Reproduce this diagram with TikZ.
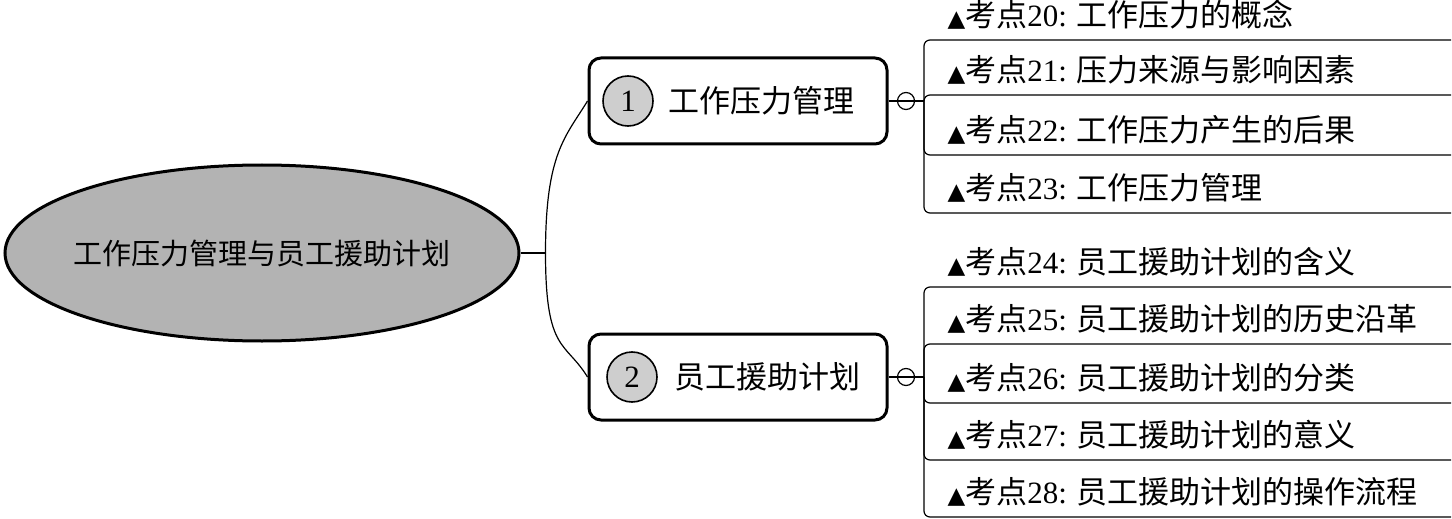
\documentclass[tikz,border=0pt]{standalone}
\usepackage{fontspec}
\setmainfont{Liberation Serif}
\newfontfamily\cjk{Noto Sans CJK SC}
\newfontfamily\symfont{DejaVu Sans}
\usetikzlibrary{shapes.geometric}
\definecolor{rootgray}{RGB}{179,179,179}
\definecolor{dotgray}{RGB}{206,206,206}
\newcommand{\kaodian}[2]{{\symfont\fontsize{11.5}{11.5}\selectfont ▲}{\cjk 考点}#1:\hspace{0.3em}{\cjk #2}}

\tikzset{every picture/.style={line width=0.6pt}}
\tikzset{
  rootnode/.style={ellipse, draw, line width=1.5pt, fill=rootgray, minimum width=257pt, minimum height=88pt, inner xsep=-40pt, inner ysep=0pt, font=\cjk\fontsize{14.5}{14.5}\selectfont},
  topicbox/.style={draw, rounded corners=6pt, line width=1.5pt, minimum width=149pt, minimum height=43pt, inner sep=0pt},
  numdot/.style={circle, draw, fill=dotgray, minimum size=25pt, inner sep=0pt, line width=0.8pt, font=\fontsize{15.5}{15.5}\selectfont},
  topictext/.style={anchor=west, inner sep=0pt, font=\cjk\fontsize{15.5}{15.5}\selectfont},
  foldmark/.style={circle, draw, fill=white, minimum size=8.5pt, inner sep=0pt, line width=0.6pt, path picture={\draw (path picture bounding box.west) -- (path picture bounding box.east);}},
  pointnode/.style={anchor=south west, text width=240pt, inner xsep=11.5pt, inner ysep=3pt, text height=11pt, text depth=3.5pt, align=left, font=\fontsize{15.5}{15.5}\selectfont},
  twig/.style={rounded corners=3pt},
}

\begin{document}
\begin{tikzpicture}[x=0.5pt,y=0.5pt,yscale=-1,xscale=1]
\useasboundingbox (0,0) rectangle (1452,519);

% root
\node[rootnode] (root) at (262,253) {工作压力管理与员工援助计划};

% topic 1
\node[topicbox] (m1) at (738,101) {};
\node[numdot] (n1) at (628,101) {1};
\node[topictext] (t1) at (668,101) {工作压力管理};
\node[foldmark] (c1) at (906,101) {};

% topic 2
\node[topicbox] (m2) at (738,377) {};
\node[numdot] (n2) at (632,377) {2};
\node[topictext] (t2) at (674,377) {员工援助计划};
\node[foldmark] (c2) at (906,377) {};

% points of topic 1
\node[pointnode] (k20) at (924,40) {\kaodian{20}{工作压力的概念}};
\node[pointnode] (k21) at (924,95) {\kaodian{21}{压力来源与影响因素}};
\node[pointnode] (k22) at (924,155) {\kaodian{22}{工作压力产生的后果}};
\node[pointnode] (k23) at (924,213) {\kaodian{23}{工作压力管理}};

% points of topic 2
\node[pointnode] (k24) at (924,287) {\kaodian{24}{员工援助计划的含义}};
\node[pointnode] (k25) at (924,344) {\kaodian{25}{员工援助计划的历史沿革}};
\node[pointnode] (k26) at (924,403) {\kaodian{26}{员工援助计划的分类}};
\node[pointnode] (k27) at (924,460) {\kaodian{27}{员工援助计划的意义}};
\node[pointnode] (k28) at (924,517) {\kaodian{28}{员工援助计划的操作流程}};

% root to topics
\draw (root.east) -- ++(25,0) coordinate (fork);
\draw (fork) .. controls +(0,-100) and +(-22,36) .. (m1.west);
\draw (fork) .. controls +(0,100) and +(-22,-36) .. (m2.west);

% topic 1 to its points
\draw (m1.east) -- (c1.west);
\draw (c1.east) -- (c1.east -| k20.south west);
\draw[twig] (c1.east -| k20.south west) |- (k20.south east);
\draw[twig] (c1.east -| k21.south west) |- (k21.south east);
\draw[twig] (c1.east -| k22.south west) |- (k22.south east);
\draw[twig] (c1.east -| k23.south west) |- (k23.south east);

% topic 2 to its points
\draw (m2.east) -- (c2.west);
\draw (c2.east) -- (c2.east -| k24.south west);
\draw[twig] (c2.east -| k24.south west) |- (k24.south east);
\draw[twig] (c2.east -| k25.south west) |- (k25.south east);
\draw[twig] (c2.east -| k26.south west) |- (k26.south east);
\draw[twig] (c2.east -| k27.south west) |- (k27.south east);
\draw[twig] (c2.east -| k28.south west) |- (k28.south east);

\end{tikzpicture}
\end{document}
